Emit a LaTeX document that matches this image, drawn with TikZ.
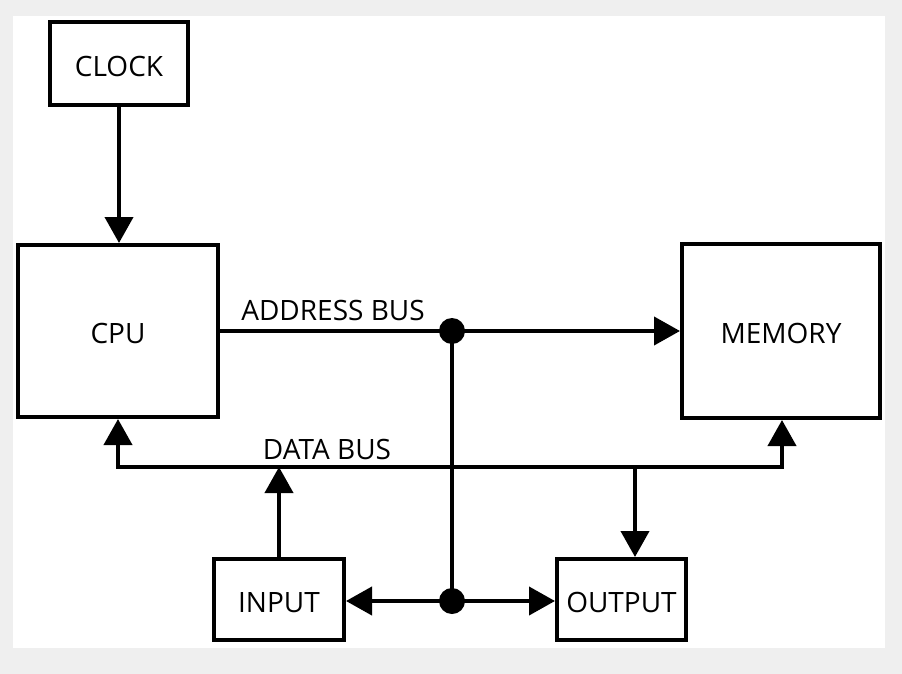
\documentclass[tikz,border=0pt]{standalone}
\usepackage{fontspec}
\setmainfont{Open Sans}
\usetikzlibrary{arrows.meta}
\definecolor{bggray}{HTML}{EFEFEF}
\begin{document}
\begin{tikzpicture}[x=1pt,y=-1pt,
  font=\fontsize{28}{33}\selectfont,
  box/.style={draw, line width=4pt, fill=white, inner sep=0pt, text height=26pt},
  wire/.style={line width=4pt},
  arr/.style={wire, -{Triangle[length=26pt,width=28pt]}},
  dot/.style={circle, fill, inner sep=0pt, minimum size=26pt}]
\useasboundingbox (0,0) rectangle (902,674);
\fill[bggray] (0,0) rectangle (902,674);
\fill[white] (13,16) rectangle (885,648);
\node[box, minimum width=138pt, minimum height=83pt] (clock) at (119,63.5) {CLOCK};
\node[box, minimum width=200pt, minimum height=172pt] (cpu) at (118,331) {CPU};
\node[box, minimum width=198pt, minimum height=174pt] (mem) at (781,331) {MEMORY};
\node[box, minimum width=130pt, minimum height=81pt] (input) at (279,599.5) {INPUT};
\node[box, minimum width=129pt, minimum height=81pt] (output) at (621.5,599.5) {OUTPUT};
\node[dot] (ja) at (452,331) {};
\node[dot] (jb) at (452,601) {};
\coordinate (dl) at (118,467);
\coordinate (dr) at (782,467);
\coordinate (do) at (635,467);
\draw[arr] (clock.south) -- (clock.south |- cpu.north);
\draw[arr] (cpu.east |- ja) -- (mem.west |- ja);
\draw[wire] (ja.center) -- (jb.center);
\draw[arr] (jb.center) -- (input.east |- jb);
\draw[arr] (jb.center) -- (output.west |- jb);
\draw[wire, {Triangle[length=26pt,width=28pt]}-{Triangle[length=26pt,width=28pt]}]
  (cpu.south) -- (dl) -- (dr) -- (mem.south -| dr);
\draw[arr] (input.north) -- (input.north |- dl);
\draw[arr] (do) -- (do |- output.north);
\node (addrlbl) at (333,310) {ADDRESS BUS};
\node (datalbl) at (327,449) {DATA BUS};
\end{tikzpicture}
\end{document}
